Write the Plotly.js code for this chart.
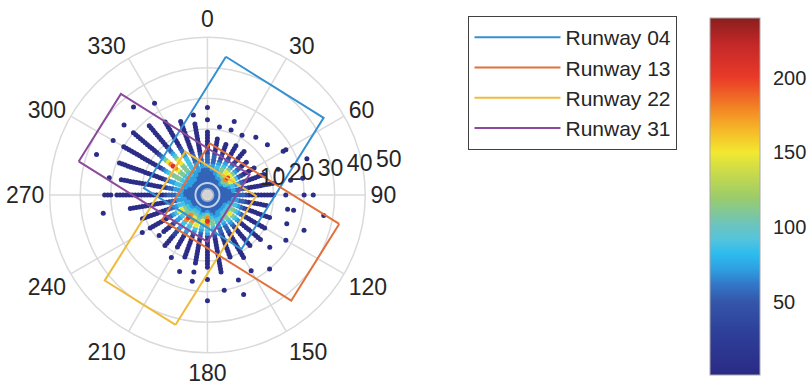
<!DOCTYPE html>
<html><head><meta charset="utf-8">
<script src="https://cdn.plot.ly/plotly-3.0.1.min.js"></script>
<style>html,body{margin:0;padding:0;background:#fff}#chart{width:807px;height:391px}</style>
</head><body><div id="chart"></div>
<script>
// ---- data ----
const directions = [0,10,20,30,40,50,60,70,80,90,100,110,120,130,140,150,160,170,
                    180,190,200,210,220,230,240,250,260,270,280,290,300,310,320,330,340,350];
// count per level digit ('.' = no observation); character position k -> wind speed k+1
const countLevels = [0, 5, 35, 55, 72, 88, 110, 148, 178, 210];
const speedProfiles = [
  '3333333433' + '322111111.' + '..1...1',            // 0
  '3333334433' + '3211111...' + '1',                  // 10
  '3333344543' + '221111....' + '1..1',               // 20
  '3333456654' + '3211111...' + '1',                  // 30
  '3333467764' + '3211111...' + '..1',                // 40
  '3334689764' + '32111.....' + '...1',               // 50
  '3333567753' + '211111....' + '......11',           // 60
  '3333345443' + '21111111..' + '..1.......' + '..1', // 70
  '3333334333' + '2111111111' + '.....1...1',         // 80
  '3333333333' + '2111111111' + '...1.....1' + '..1', // 90
  '3333334433' + '21111111..' + '....1.1...' + '......1', // 100
  '3333345543' + '2111111111' + '.....1....' + '.1',  // 110
  '3333456654' + '3211111111' + '.......1',           // 120
  '3333456765' + '4211111111' + '1...1',              // 130
  '3333456654' + '3211111111' + '.........1',         // 140
  '3333445543' + '3211111111' + '11....1',            // 150
  '3333345543' + '3211111111' + '.......1..' + '..1', // 160
  '3333456654' + '3211111111' + '1111.....1',         // 170
  '3334689865' + '4211111111' + '11...1....' + '..1', // 180
  '3333567654' + '3211111111' + '1..1..1',            // 190
  '3333456775' + '4211111111' + '....1',              // 200
  '3334567865' + '54211111..' + '.1',                 // 210
  '3334568985' + '5432211111',                        // 220
  '3333456654' + '4321111.1',                         // 230
  '3333456775' + '4321111111' + '..1',                // 240
  '3333445543' + '3211111111' + '1',                  // 250
  '3333344433' + '2211111111' + '1111......' + '..1', // 260
  '3333334433' + '3211111111' + '11111111.1' + '11',  // 270
  '3333334443' + '3211111111' + '1111111...' + '1',   // 280
  '3333344554' + '4321111111' + '111111111.' + '......1', // 290
  '3333445566' + '6654321111' + '1111111111' + '...1', // 300
  '3333445566' + '7898765321' + '1111111111' + '...1', // 310
  '3333445566' + '6776543211' + '11111111..' + '.....1', // 320
  '3333344555' + '5543321111' + '111111....' + '..1', // 330
  '3333334443' + '3321111111' + '1111',               // 340
  '3333333433' + '3211111111' + '11..1'               // 350
];

const runwayNames = ['Runway 04', 'Runway 13', 'Runway 22', 'Runway 31'];
const runwayColors = ['#3391d1', '#e2703a', '#efbb3c', '#8b4a9b'];
const runway04Theta = [7.6, 56.4, 147.8, 276.2, 7.6];
const runway04R     = [44.0, 44.0, 19.3, 19.3, 44.0];
const runway13Theta = [102.4, 141.6, 241.3, 2.7, 102.4];
const runway13R     = [42.5, 42.5, 15.3, 15.3, 42.5];
const runway22Theta = [193.8, 230.2, 332.8, 91.2, 193.8];
const runway22R     = [42.1, 42.1, 14.3, 14.3, 42.1];
const runway31Theta = [284.6, 319.4, 64.0, 180.0, 284.6];
const runway31R     = [41.9, 41.9, 13.7, 13.7, 41.9];

const angleTicks = [0,30,60,90,120,150,180,210,240,270,300,330];
const angleTickText = ['0','30','60','90','120','150','180','210','240','270','300','330'];
const radialTicks = [10,20,30,40,50];
const radialTickText = ['10','20','30','40','50'];
const colorTicks = [50,100,150,200];
const countMin = 1, countMax = 240;
const radialMin = -1.6, radialMax = 50;

// ---- build scatter points ----
const pts = [];
directions.forEach((d, i) => {
  const s = speedProfiles[i];
  for (let k = 0; k < s.length; k++) {
    const ch = s[k];
    if (ch === '.') continue;
    pts.push({theta: d, r: k + 1, c: countLevels[+ch]});
  }
});
pts.sort((a, b) => a.c - b.c);

const jet = [
  [0.000, '#2a2a84'], [0.121, '#2e409a'], [0.205, '#3456aa'], [0.255, '#3278c8'],
  [0.297, '#2ea0e2'], [0.339, '#2cbcee'], [0.381, '#56c4dc'], [0.423, '#6cc4bc'],
  [0.498, '#9ccc6a'], [0.573, '#cddc48'], [0.623, '#f2e830'], [0.686, '#f6b828'],
  [0.741, '#f38a24'], [0.833, '#ea3a28'], [0.925, '#c42828'], [1.000, '#8b1e1e']
];

const font = 'Liberation Sans, Arial, Helvetica, sans-serif';
const txt = '#262626';

const traces = [{
  type: 'scatterpolar', mode: 'markers', subplot: 'polar',
  theta: pts.map(p => p.theta), r: pts.map(p => p.r),
  marker: {
    size: 5, color: pts.map(p => p.c), colorscale: jet, cmin: countMin, cmax: countMax,
    line: {width: 0},
    colorbar: {
      x: 715/807, xanchor: 'left', xpad: 0, ypad: 0,
      y: 1 - 196.5/391, yanchor: 'middle',
      len: 357, lenmode: 'pixels', thickness: 50, thicknessmode: 'pixels',
      outlinecolor: '#a8a8a8', outlinewidth: 1,
      tickmode: 'array', tickvals: colorTicks,
      ticks: 'outside', ticklen: 9, tickcolor: 'rgba(0,0,0,0)',
      tickfont: {size: 20, color: txt, family: font}
    }
  },
  showlegend: false, hoverinfo: 'skip'
}];

const rw = [[runway04Theta, runway04R], [runway13Theta, runway13R],
            [runway22Theta, runway22R], [runway31Theta, runway31R]];
rw.forEach((t, i) => traces.push({
  type: 'scatterpolar', mode: 'lines', subplot: 'polar',
  theta: t[0], r: t[1], name: runwayNames[i],
  line: {color: runwayColors[i], width: 2}
}));

// calm-wind centre marker
traces.push({
  type: 'scatterpolar', mode: 'markers', subplot: 'polar',
  theta: [0, 0], r: [radialMin, radialMin],
  marker: {size: [24, 14], color: ['rgba(0,0,0,0)', '#d0d0d0'],
           line: {color: ['#ffffff', 'rgba(0,0,0,0)'], width: [2, 0]}},
  showlegend: false, hoverinfo: 'skip'
});
// overlay subplot used only to carry the radial tick labels
traces.push({type: 'scatterpolar', subplot: 'polar2', r: [], theta: [], showlegend: false, hoverinfo: 'skip'});

const grid = '#dadada';
const layout = {
  width: 807, height: 391,
  margin: {l: 0, r: 0, t: 0, b: 0},
  paper_bgcolor: '#ffffff',
  font: {family: font, color: txt},
  showlegend: true,
  legend: {
    x: 472/807, y: 1 - 16/391, xanchor: 'left', yanchor: 'top',
    bordercolor: '#404040', borderwidth: 1, bgcolor: '#ffffff',
    font: {size: 21, color: txt, family: font}, itemwidth: 86,
    entrywidth: 222, entrywidthmode: 'pixels'
  },
  polar: {
    domain: {x: [50/807, 368/807], y: [37/391, 355/391]},
    bgcolor: '#ffffff',
    angularaxis: {
      rotation: 90, direction: 'clockwise',
      tickmode: 'array', tickvals: angleTicks, ticktext: angleTickText,
      showgrid: true, gridcolor: grid, gridwidth: 1.5,
      showline: true, linecolor: grid, linewidth: 1.5,
      ticks: '', tickfont: {size: 23, color: txt, family: font}
    },
    radialaxis: {
      range: [radialMin, radialMax], tickmode: 'array', tickvals: radialTicks,
      showgrid: true, gridcolor: grid, gridwidth: 1.5,
      showline: false, ticks: '', showticklabels: false
    }
  },
  polar2: {
    domain: {x: [112.75/807, 408.75/807], y: [49/391, 345/391]},
    bgcolor: 'rgba(0,0,0,0)',
    angularaxis: {visible: false},
    radialaxis: {
      range: [0, radialMax], angle: 8.75, tickangle: 8.75, tickmode: 'array',
      tickvals: radialTicks, ticktext: radialTickText,
      showgrid: false, showline: false, ticks: '', side: 'counterclockwise',
      tickfont: {size: 23, color: txt, family: font}
    }
  }
};

Plotly.newPlot('chart', traces, layout, {staticPlot: true, displayModeBar: false});
</script>
</body></html>
